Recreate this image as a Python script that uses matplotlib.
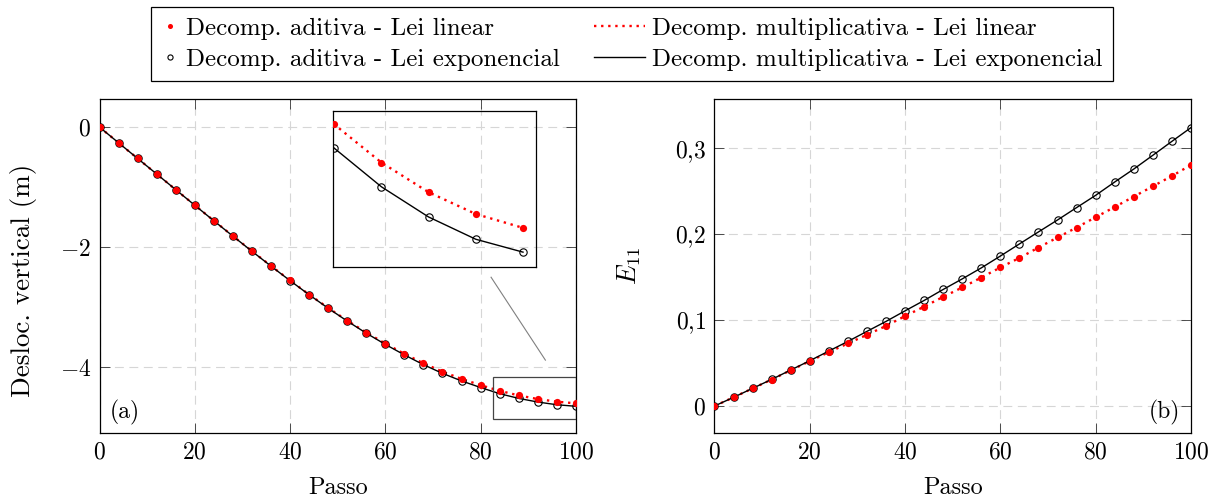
import numpy as np
import matplotlib
matplotlib.use("Agg")
import matplotlib.pyplot as plt
from matplotlib.legend_handler import HandlerLine2D
from matplotlib.patches import Rectangle

plt.rcParams["font.family"] = "cmr10"
plt.rcParams["mathtext.fontset"] = "cm"
plt.rcParams["axes.formatter.use_mathtext"] = True
plt.rcParams["font.size"] = 17

# passos de carga (marcadores a cada 4 passos)
passo = np.arange(0, 101, 4)

# deslocamento vertical (m)
desl_lin = [0, -0.262, -0.523, -0.782, -1.043, -1.302, -1.560, -1.816, -2.067, -2.314,
            -2.557, -2.791, -3.014, -3.226, -3.425, -3.609, -3.780, -3.938, -4.078, -4.198,
            -4.303, -4.397, -4.474, -4.534, -4.578, -4.606]
desl_exp = [0, -0.262, -0.523, -0.782, -1.043, -1.303, -1.562, -1.818, -2.070, -2.318,
            -2.560, -2.795, -3.020, -3.234, -3.436, -3.623, -3.798, -3.961, -4.106, -4.232,
            -4.342, -4.445, -4.523, -4.584, -4.629, -4.655]

# deformacao E11
e11_lin = [0, 0.0101, 0.0205, 0.0308, 0.0416, 0.0522, 0.0627, 0.0728, 0.0829, 0.0932,
           0.1047, 0.1157, 0.1271, 0.1380, 0.1496, 0.1613, 0.1724, 0.1845, 0.1962, 0.2078,
           0.2198, 0.2317, 0.2438, 0.2558, 0.2678, 0.2806]
e11_exp = [0, 0.0101, 0.0206, 0.0310, 0.0419, 0.0527, 0.0640, 0.0752, 0.0869, 0.0985,
           0.1108, 0.1229, 0.1357, 0.1480, 0.1608, 0.1746, 0.1887, 0.2027, 0.2166, 0.2310,
           0.2453, 0.2608, 0.2759, 0.2919, 0.3081, 0.3241]

xticks = [0, 20, 40, 60, 80, 100]
yticks_a = [0, -2, -4]
yticks_b = [0, 0.1, 0.2, 0.3]
ylabels_b = ["0", "0{,}1", "0{,}2", "0{,}3"]

labels = ["Decomp. aditiva - Lei linear",
          "Decomp. aditiva - Lei exponencial",
          "Decomp. multiplicativa - Lei linear",
          "Decomp. multiplicativa - Lei exponencial"]


class LinhaLonga(HandlerLine2D):
    # linha da legenda mais comprida que a caixa, avancando para a esquerda
    def get_xdata(self, legend, xdescent, ydescent, width, height, fontsize):
        xdata, xmark = super().get_xdata(legend, xdescent, ydescent, width, height, fontsize)
        return np.array([-xdescent - 1.34 * fontsize, -xdescent + width]), xmark


def curvas(ax, y_lin, y_exp):
    l_ml, = ax.plot(passo, y_lin, color="red", ls=(0, (1, 2)), lw=1.7, zorder=2)
    l_me, = ax.plot(passo, y_exp, color="black", lw=1.0, zorder=2)
    l_ae, = ax.plot(passo, y_exp, ls="none", marker="o", ms=5.3, mfc="none",
                    mec="black", mew=0.8, zorder=3)
    l_al, = ax.plot(passo, y_lin, ls="none", marker="o", ms=5.2, color="red",
                    mew=0, zorder=4)
    return l_al, l_ae, l_ml, l_me


def estilo(ax):
    ax.set_xlim(0, 100)
    ax.set_xticks(xticks)
    ax.set_xticklabels([f"${v}$" for v in xticks])
    ax.tick_params(direction="in", top=True, right=True, length=7, width=0.6,
                   pad=6, labelsize=17, color="#333333")
    ax.grid(True, color="#d6d6d6", linestyle=(0, (8, 5)), linewidth=0.8)
    ax.set_axisbelow(True)
    for s in ax.spines.values():
        s.set_linewidth(0.9)
    ax.set_xlabel("Passo", fontsize=17.5, labelpad=10)


fig = plt.figure(figsize=(12.18, 4.99), dpi=100)
ax1 = fig.add_axes([0.0817, 0.1323, 0.3911, 0.6703])
ax2 = fig.add_axes([0.5866, 0.1323, 0.3912, 0.6703])

# (a) deslocamento
handles = curvas(ax1, desl_lin, desl_exp)
estilo(ax1)
ax1.set_ylim(-5.1, 0.477)
ax1.set_yticks(yticks_a)
ax1.set_yticklabels([f"${v}$" for v in yticks_a])
ax1.set_ylabel("Desloc. vertical (m)", fontsize=19.5)
ax1.yaxis.set_label_coords(-0.132, 0.455)
ax1.text(0.022, 0.06, "(a)", transform=ax1.transAxes, ha="left", va="center", fontsize=17)

# zona ampliada
ax1.add_patch(Rectangle((82.7, -4.866), 17.3, 0.702, fill=False, ec="#444444",
                        lw=0.9, zorder=5))
ax1.plot([82.2, 93.6], [-2.503, -3.885], color="gray", lw=0.8)

axin = fig.add_axes([333 / 1218, 1 - 267 / 499, 203 / 1218, 156 / 499])
axin.set_facecolor("none")
curvas(axin, desl_lin, desl_exp)
axin.set_xlim(83.9, 101.1)
axin.set_ylim(-4.685, -4.370)
axin.set_xticks([])
axin.set_yticks([])
for s in axin.spines.values():
    s.set_linewidth(0.9)

# (b) deformacao
curvas(ax2, e11_lin, e11_exp)
estilo(ax2)
ax2.set_ylim(-0.0314, 0.358)
ax2.set_yticks(yticks_b)
ax2.set_yticklabels([f"${v}$" for v in ylabels_b])
ax2.set_ylabel("$E_{11}$", fontsize=19)
ax2.yaxis.set_label_coords(-0.15, 0.5)
ax2.text(0.977, 0.06, "(b)", transform=ax2.transAxes, ha="right", va="center", fontsize=17)

leg = fig.legend(handles, labels, ncol=2, loc="center",
                 bbox_to_anchor=(632 / 1218, 1 - 44 / 499),
                 handlelength=0.7, handletextpad=0.3, columnspacing=2.7,
                 borderpad=0.4, labelspacing=0.35, markerscale=0.7,
                 fancybox=False, framealpha=1, edgecolor="black", fontsize=18,
                 handler_map={handles[2]: LinhaLonga(), handles[3]: LinhaLonga()})
leg.get_frame().set_linewidth(0.9)

fig.savefig("out.png", dpi=100)
